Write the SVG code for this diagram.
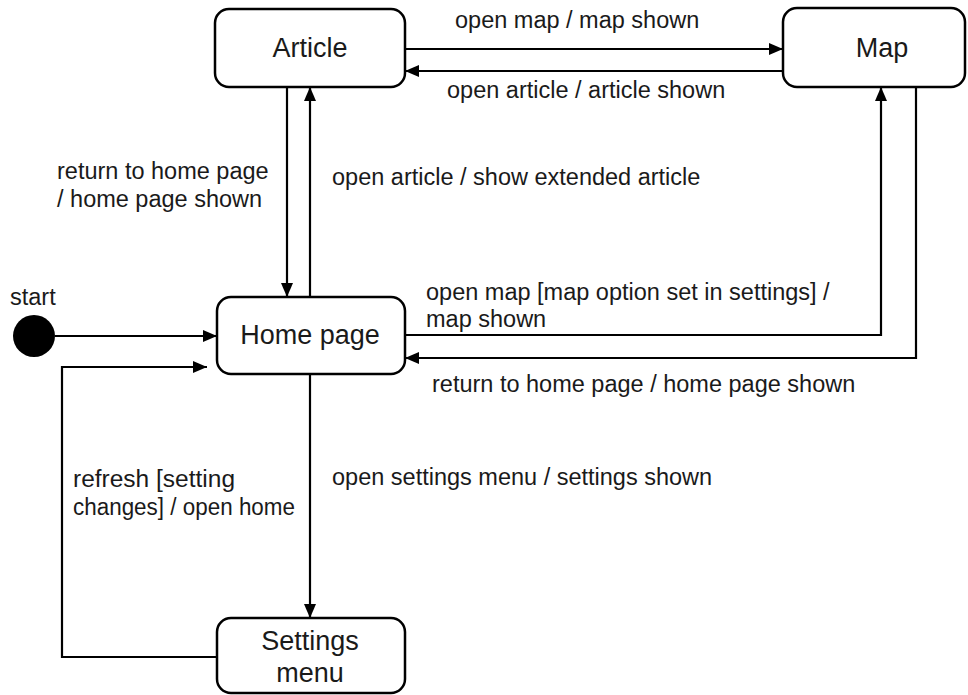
<svg xmlns="http://www.w3.org/2000/svg" width="968" height="695" viewBox="0 0 968 695">
  <defs>
    <marker id="arrow" viewBox="0 0 14 12" refX="14" refY="6" markerWidth="14" markerHeight="12" markerUnits="userSpaceOnUse" orient="auto">
      <path d="M0,0 L14,6 L0,12 Z" fill="#000"/>
    </marker>
    <style>
      .box { fill: #fff; stroke: #000; stroke-width: 2.5; }
      .edge { fill: none; stroke: #000; stroke-width: 2.2; }
      .arr { marker-end: url(#arrow); }
      .node-label { font-family: "Liberation Sans", Arial, sans-serif; font-size: 27px; fill: #1a1a1a; text-anchor: middle; }
      .edge-label { font-family: "Liberation Sans", Arial, sans-serif; font-size: 23.5px; fill: #1a1a1a; }
    </style>
  </defs>

  <rect width="968" height="695" fill="#fff"/>

  <!-- transitions -->
  <g id="connectors">
    <path class="edge arr" d="M55,336 H217"/>
    <path class="edge arr" d="M405,49 H783"/>
    <path class="edge arr" d="M783,71 H405"/>
    <path class="edge arr" d="M287,87 V297"/>
    <path class="edge arr" d="M310,297 V87"/>
    <path class="edge arr" d="M405,335 H881 V87"/>
    <path class="edge arr" d="M916,87 V358 H405"/>
    <path class="edge arr" d="M310,374 V618"/>
    <path class="edge arr" d="M217,657 H62 V367 H207"/>
  </g>

  <g id="edge-labels">
    <text class="edge-label" x="455" y="28">open map / map shown</text>
    <text class="edge-label" x="447" y="98">open article / article shown</text>
    <text class="edge-label" x="57" y="179">return to home page</text>
    <text class="edge-label" x="57" y="207">/ home page shown</text>
    <text class="edge-label" x="332" y="185">open article / show extended article</text>
    <text class="edge-label" x="426" y="300">open map [map option set in settings] /</text>
    <text class="edge-label" x="426" y="327">map shown</text>
    <text class="edge-label" x="432" y="392">return to home page / home page shown</text>
    <text class="edge-label" x="73" y="487" textLength="162" lengthAdjust="spacingAndGlyphs">refresh [setting</text>
    <text class="edge-label" x="73" y="515" textLength="222" lengthAdjust="spacingAndGlyphs">changes] / open home</text>
    <text class="edge-label" x="332" y="485">open settings menu / settings shown</text>
  </g>

  <!-- initial pseudo-state -->
  <g id="start">
    <text class="edge-label" x="10" y="305">start</text>
    <circle cx="34" cy="336" r="21" fill="#000"/>
  </g>

  <g id="article">
    <rect class="box" x="215" y="9" width="190" height="78" rx="14"/>
    <text class="node-label" x="310" y="57">Article</text>
  </g>

  <g id="map">
    <rect class="box" x="783" y="8" width="182" height="79" rx="14"/>
    <text class="node-label" x="882" y="57">Map</text>
  </g>

  <g id="home">
    <rect class="box" x="217" y="297" width="188" height="77" rx="14"/>
    <text class="node-label" x="310" y="344">Home page</text>
  </g>

  <g id="settings">
    <rect class="box" x="217" y="618" width="188" height="75" rx="14"/>
    <text class="node-label" x="310" y="650">Settings</text>
    <text class="node-label" x="310" y="682">menu</text>
  </g>
</svg>
